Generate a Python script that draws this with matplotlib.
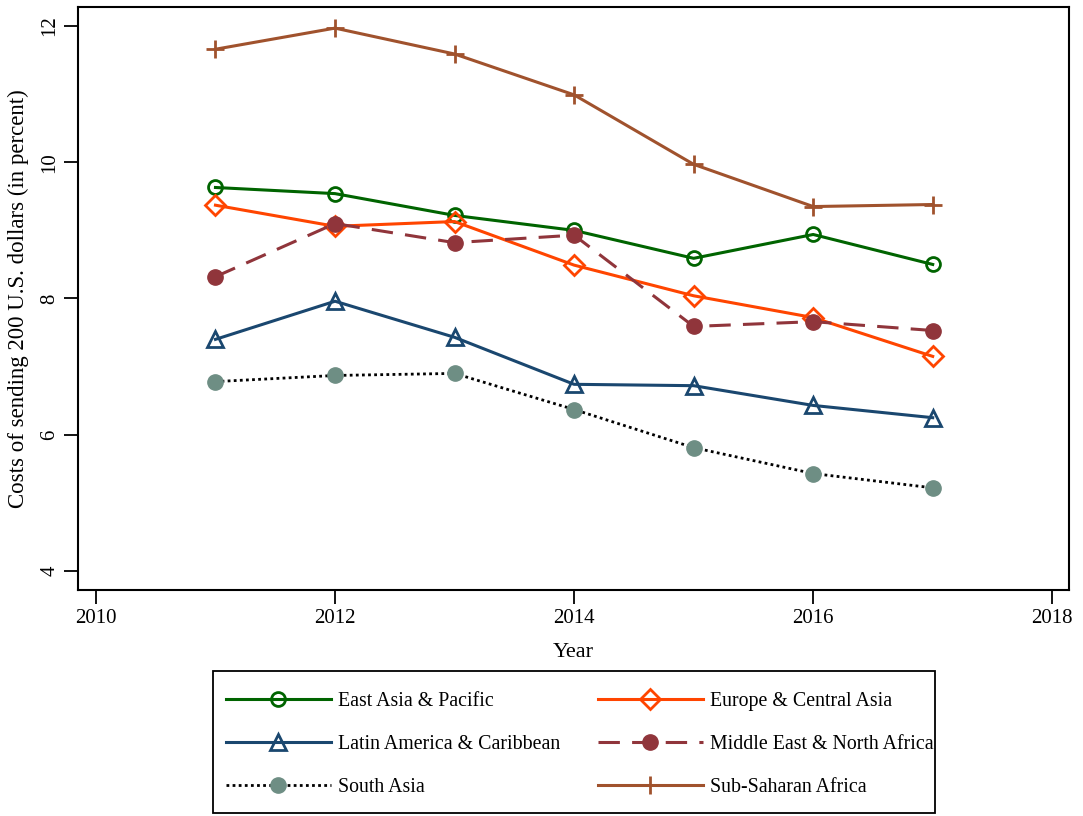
import matplotlib
matplotlib.use("Agg")
import matplotlib.pyplot as plt
from matplotlib.patches import Rectangle

plt.rcParams['font.family'] = ['Liberation Serif', 'DejaVu Serif']

years = [2011, 2012, 2013, 2014, 2015, 2016, 2017]
east_asia = [9.63, 9.54, 9.22, 9.00, 8.59, 8.94, 8.50]
europe = [9.37, 9.06, 9.13, 8.49, 8.04, 7.72, 7.15]
latin = [7.40, 7.96, 7.43, 6.74, 6.72, 6.43, 6.25]
mena = [8.32, 9.10, 8.82, 8.93, 7.59, 7.66, 7.53]
south_asia = [6.78, 6.87, 6.90, 6.37, 5.81, 5.43, 5.22]
ssa = [11.66, 11.97, 11.59, 10.99, 9.97, 9.35, 9.38]

labels = ["East Asia & Pacific", "Europe & Central Asia",
          "Latin America & Caribbean", "Middle East & North Africa",
          "South Asia", "Sub-Saharan Africa"]
xticks = [2010, 2012, 2014, 2016, 2018]
yticks = [4, 6, 8, 10, 12]

W, H = 1083, 816
fig = plt.figure(figsize=(W / 100, H / 100), dpi=100)
ax = fig.add_axes([78 / W, 1 - 590 / H, (1069 - 78) / W, (590 - 7) / H])

lw = 2.2
h1, = ax.plot(years, east_asia, color='#006400', lw=lw, marker='o', ms=10,
              mfc='none', mec='#006400', mew=2, label=labels[0])
h2, = ax.plot(years, europe, color='#ff4500', lw=lw, marker='D', ms=10,
              mfc='none', mec='#ff4500', mew=2, label=labels[1])
h3, = ax.plot(years, latin, color='#1a476f', lw=lw, marker='^', ms=11,
              mfc='none', mec='#1a476f', mew=2, label=labels[2])
h4, = ax.plot(years, mena, color='#90353b', lw=lw, ls=(0, (7, 4)), marker='o', ms=11,
              mfc='#90353b', mec='#90353b', label=labels[3])
h5, = ax.plot(years, south_asia, color='black', lw=2, ls=(0, (1, 1.2)), marker='o', ms=11,
              mfc='#6e8e84', mec='#6e8e84', label=labels[4])
h6, = ax.plot(years, ssa, color='#a0522d', lw=lw, marker='+', ms=13,
              mew=2, label=labels[5])

ax.set_xlim(2009.85, 2018.14)
ax.set_ylim(3.72, 12.28)
ax.set_xticks(xticks)
ax.set_yticks(yticks)
ax.tick_params(axis='both', direction='out', length=10, width=1.3, labelsize=15)
for lab in ax.get_yticklabels():
    lab.set_rotation(90)
    lab.set_va('center')
for s in ax.spines.values():
    s.set_linewidth(1.5)
ax.set_xlabel("Year", fontsize=16, labelpad=11)
ax.set_ylabel("Costs of sending 200 U.S. dollars (in percent)", fontsize=16.5, labelpad=8)

# legend frame
fig.add_artist(Rectangle((213 / W, 1 - 813 / H), (935 - 213) / W, (813 - 671) / H,
                         transform=fig.transFigure, fill=False, edgecolor='black',
                         linewidth=1.3))

leg = fig.legend(handles=[h1, h3, h5, h2, h4, h6], ncol=2,
                 loc='upper left', bbox_to_anchor=(226 / W, 1 - 692 / H),
                 fontsize=14.3, frameon=False,
                 handlelength=5.28, labelspacing=1.2, columnspacing=1.9,
                 borderpad=0.0, borderaxespad=0.0, handletextpad=0.35)

fig.savefig("out.png", dpi=100)
